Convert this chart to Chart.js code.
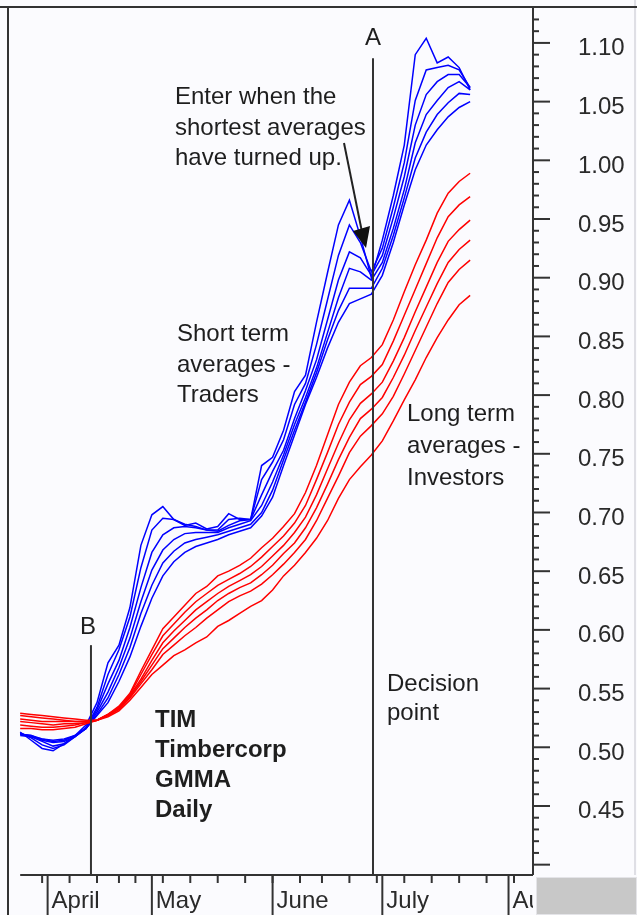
<!DOCTYPE html>
<html>
<head>
<meta charset="utf-8">
<title>TIM Timbercorp GMMA Daily</title>
<script src="https://cdn.jsdelivr.net/npm/chart.js@4/dist/chart.umd.min.js"></script>
<style>
  html, body { margin: 0; padding: 0; background: #fbfbfe; }
  #wrap { width: 637px; height: 915px; }
</style>
</head>
<body>
<div id="wrap"><canvas id="gmma" width="637" height="915"></canvas></div>
<script>
// trading day index, 0 = 1 April 2003
const days = [-5, -3, -1, 1, 3, 5, 7, 9, 11, 13, 15, 17, 19, 21, 23, 25, 27, 29, 31, 33, 35,
              37, 39, 41, 43, 45, 47, 49, 51, 53, 55, 57, 59, 61, 63, 65, 67, 69, 71, 73, 75, 77];

// short term averages - traders
const ema3  = [0.513, 0.506, 0.499, 0.497, 0.503, 0.510, 0.519, 0.538, 0.572, 0.587, 0.619, 0.672, 0.698, 0.705,
               0.694, 0.689, 0.691, 0.686, 0.688, 0.699, 0.694, 0.694, 0.740, 0.747, 0.770, 0.803, 0.817, 0.862,
               0.904, 0.945, 0.966, 0.935, 0.900, 0.932, 0.970, 1.013, 1.090, 1.104, 1.083, 1.088, 1.079, 1.060];
const ema5  = [0.512, 0.508, 0.502, 0.499, 0.502, 0.509, 0.517, 0.534, 0.562, 0.583, 0.611, 0.653, 0.685, 0.695,
               0.694, 0.690, 0.688, 0.685, 0.685, 0.694, 0.695, 0.694, 0.728, 0.743, 0.762, 0.792, 0.810, 0.843,
               0.881, 0.919, 0.945, 0.930, 0.905, 0.925, 0.960, 0.998, 1.051, 1.077, 1.079, 1.081, 1.077, 1.062];
const ema8  = [0.512, 0.509, 0.505, 0.501, 0.503, 0.509, 0.516, 0.532, 0.554, 0.574, 0.602, 0.636, 0.666, 0.681,
               0.687, 0.688, 0.687, 0.685, 0.684, 0.689, 0.693, 0.694, 0.715, 0.735, 0.753, 0.780, 0.804, 0.830,
               0.864, 0.898, 0.922, 0.917, 0.902, 0.919, 0.951, 0.986, 1.030, 1.056, 1.067, 1.073, 1.073, 1.062];
const ema10 = [0.511, 0.510, 0.506, 0.504, 0.505, 0.509, 0.516, 0.530, 0.547, 0.568, 0.593, 0.624, 0.651, 0.668,
               0.677, 0.682, 0.683, 0.683, 0.683, 0.687, 0.690, 0.693, 0.706, 0.726, 0.749, 0.775, 0.798, 0.823,
               0.853, 0.883, 0.908, 0.905, 0.898, 0.913, 0.942, 0.975, 1.015, 1.039, 1.051, 1.062, 1.067, 1.060];
const ema12 = [0.511, 0.510, 0.507, 0.505, 0.506, 0.510, 0.516, 0.528, 0.542, 0.562, 0.585, 0.614, 0.638, 0.657,
               0.667, 0.674, 0.677, 0.679, 0.681, 0.684, 0.687, 0.690, 0.700, 0.719, 0.745, 0.770, 0.794, 0.819,
               0.847, 0.872, 0.891, 0.891, 0.891, 0.908, 0.936, 0.968, 1.002, 1.024, 1.039, 1.049, 1.057, 1.056];
const ema15 = [0.510, 0.509, 0.507, 0.506, 0.507, 0.510, 0.516, 0.527, 0.538, 0.556, 0.577, 0.603, 0.627, 0.646,
               0.658, 0.666, 0.671, 0.674, 0.677, 0.681, 0.684, 0.687, 0.697, 0.713, 0.740, 0.766, 0.792, 0.815,
               0.840, 0.862, 0.878, 0.882, 0.886, 0.902, 0.930, 0.962, 0.992, 1.013, 1.026, 1.037, 1.045, 1.050];

// long term averages - investors
const ema30 = [0.516, 0.516, 0.515, 0.515, 0.516, 0.517, 0.520, 0.523, 0.528, 0.535, 0.546, 0.565, 0.583, 0.601,
               0.611, 0.621, 0.631, 0.637, 0.646, 0.650, 0.655, 0.661, 0.670, 0.678, 0.688, 0.699, 0.717, 0.740,
               0.766, 0.792, 0.811, 0.825, 0.832, 0.843, 0.864, 0.888, 0.911, 0.932, 0.955, 0.972, 0.982, 0.989];
const ema35 = [0.519, 0.518, 0.517, 0.517, 0.518, 0.519, 0.521, 0.523, 0.528, 0.534, 0.545, 0.562, 0.579, 0.595,
               0.605, 0.615, 0.624, 0.631, 0.638, 0.643, 0.648, 0.654, 0.662, 0.671, 0.680, 0.691, 0.706, 0.728,
               0.751, 0.775, 0.794, 0.809, 0.816, 0.826, 0.846, 0.868, 0.890, 0.912, 0.934, 0.952, 0.962, 0.969];
const ema40 = [0.522, 0.521, 0.520, 0.519, 0.520, 0.520, 0.521, 0.523, 0.528, 0.533, 0.544, 0.558, 0.574, 0.589,
               0.599, 0.608, 0.617, 0.624, 0.631, 0.637, 0.642, 0.647, 0.654, 0.663, 0.672, 0.683, 0.696, 0.715,
               0.737, 0.759, 0.779, 0.793, 0.801, 0.811, 0.829, 0.849, 0.871, 0.892, 0.913, 0.931, 0.941, 0.949];
const ema45 = [0.524, 0.523, 0.522, 0.522, 0.522, 0.522, 0.522, 0.523, 0.527, 0.533, 0.543, 0.556, 0.570, 0.584,
               0.593, 0.602, 0.610, 0.617, 0.625, 0.631, 0.636, 0.640, 0.647, 0.655, 0.665, 0.674, 0.687, 0.704,
               0.724, 0.745, 0.764, 0.780, 0.788, 0.798, 0.815, 0.834, 0.855, 0.875, 0.895, 0.913, 0.924, 0.932];
const ema50 = [0.527, 0.526, 0.525, 0.524, 0.523, 0.522, 0.522, 0.523, 0.527, 0.532, 0.542, 0.554, 0.566, 0.579,
               0.587, 0.595, 0.602, 0.610, 0.617, 0.624, 0.629, 0.633, 0.639, 0.647, 0.656, 0.666, 0.677, 0.693,
               0.712, 0.731, 0.751, 0.765, 0.774, 0.784, 0.799, 0.818, 0.838, 0.858, 0.878, 0.896, 0.907, 0.915];
const ema60 = [0.529, 0.528, 0.527, 0.526, 0.525, 0.524, 0.523, 0.523, 0.526, 0.531, 0.540, 0.551, 0.562, 0.570,
               0.578, 0.583, 0.589, 0.594, 0.603, 0.608, 0.614, 0.620, 0.625, 0.634, 0.646, 0.655, 0.666, 0.678,
               0.693, 0.712, 0.728, 0.739, 0.749, 0.761, 0.778, 0.796, 0.813, 0.832, 0.849, 0.864, 0.877, 0.885];

// axes
const monthStarts = [0, 19, 41, 61, 84];
const monthNames = ["April", "May", "June", "July", "August"];
const weekStarts = [-1, 4, 9, 13, 16, 21, 26, 31, 36, 41, 46, 50, 55, 60, 65, 70, 75, 80, 85];
const priceTicks = [0.45, 0.50, 0.55, 0.60, 0.65, 0.70, 0.75, 0.80, 0.85, 0.90, 0.95, 1.00, 1.05, 1.10];

const entryB = 7.9;      // B
const decisionA = 59.3;  // A

const FONT = '"Liberation Sans", Arial, sans-serif';

const notes = [
  { text: "A", x: 365, y: 38 },
  { text: "B", x: 80, y: 627 },
  { text: "Enter when the", x: 175, y: 97 },
  { text: "shortest averages", x: 175, y: 128 },
  { text: "have turned up.", x: 175, y: 158 },
  { text: "Short term", x: 177, y: 334 },
  { text: "averages -", x: 177, y: 365 },
  { text: "Traders", x: 177, y: 395 },
  { text: "Long term", x: 407, y: 414 },
  { text: "averages -", x: 407, y: 446 },
  { text: "Investors", x: 407, y: 478 },
  { text: "Decision", x: 387, y: 684 },
  { text: "point", x: 387, y: 713 },
  { text: "TIM", x: 155, y: 720, bold: true },
  { text: "Timbercorp", x: 155, y: 750, bold: true },
  { text: "GMMA", x: 155, y: 780, bold: true },
  { text: "Daily", x: 155, y: 810, bold: true }
];

function series(values, color) {
  return {
    data: days.map((d, i) => ({ x: d, y: values[i] })),
    borderColor: color,
    borderWidth: 1.5,
    pointRadius: 0,
    tension: 0,
    fill: false
  };
}

const decor = {
  id: 'decor',
  beforeDraw(chart) {
    const ctx = chart.ctx;
    ctx.save();
    ctx.fillStyle = '#fbfbfe';
    ctx.fillRect(0, 0, chart.width, chart.height);
    ctx.restore();
  },
  afterDraw(chart) {
    const { ctx, chartArea: area, scales: { x, y } } = chart;
    const seg = (x1, y1, x2, y2) => {
      ctx.beginPath();
      ctx.moveTo(x1, y1);
      ctx.lineTo(x2, y2);
      ctx.stroke();
    };
    ctx.save();

    // light outer edge on the right
    ctx.strokeStyle = '#d6d6dc';
    ctx.lineWidth = 1.5;
    seg(635, 0, 635, area.bottom);

    ctx.strokeStyle = '#333';
    ctx.lineWidth = 2;
    seg(0, area.top, chart.width, area.top);
    seg(area.left, area.top, area.left, chart.height);
    seg(area.right, area.top, area.right, area.bottom);
    seg(x.getPixelForValue(days[0]), area.bottom, area.right, area.bottom);

    // price axis ticks
    for (let c = 40; c <= 112; c++) {
      const py = y.getPixelForValue(c / 100);
      seg(area.right, py, area.right + (c % 5 === 0 ? 17 : 6), py);
    }
    ctx.fillStyle = '#2a2a2a';
    ctx.font = '24px ' + FONT;
    ctx.textAlign = 'left';
    ctx.textBaseline = 'alphabetic';
    priceTicks.forEach(v => ctx.fillText(v.toFixed(2), 578, y.getPixelForValue(v) + 12.5));

    // time axis
    weekStarts.forEach(d => {
      const px = x.getPixelForValue(d);
      seg(px, area.bottom, px, area.bottom + 8);
    });
    monthStarts.forEach(d => {
      const px = x.getPixelForValue(d);
      seg(px, area.bottom, px, chart.height);
    });
    ctx.save();
    ctx.beginPath();
    ctx.rect(0, area.bottom, area.right, chart.height - area.bottom);
    ctx.clip();
    monthNames.forEach((m, k) => ctx.fillText(m, x.getPixelForValue(monthStarts[k]) + 4, 908));
    ctx.restore();

    // A and B markers
    ctx.strokeStyle = '#333';
    const ax = x.getPixelForValue(decisionA);
    seg(ax, y.getPixelForValue(1.087), ax, area.bottom);
    const bx = x.getPixelForValue(entryB);
    seg(bx, y.getPixelForValue(0.587), bx, area.bottom);

    // arrow to the turn
    ctx.strokeStyle = '#222';
    ctx.lineWidth = 2;
    seg(344, 143, 362, 232);
    ctx.fillStyle = '#111';
    ctx.beginPath();
    ctx.moveTo(353, 231);
    ctx.lineTo(370, 226);
    ctx.lineTo(366, 248);
    ctx.closePath();
    ctx.fill();

    // notes
    ctx.fillStyle = '#1e1e1e';
    ctx.textBaseline = 'middle';
    notes.forEach(n => {
      ctx.font = (n.bold ? 'bold ' : '') + '24px ' + FONT;
      ctx.fillText(n.text, n.x, n.y);
    });

    // grey corner box
    ctx.fillStyle = '#c8c8c8';
    ctx.fillRect(536, area.bottom + 2, chart.width - 536, chart.height - area.bottom - 2);
    ctx.strokeStyle = '#e4e4e8';
    ctx.lineWidth = 1;
    ctx.strokeRect(536.5, area.bottom + 2.5, chart.width - 537, chart.height - area.bottom - 3);

    ctx.restore();
  }
};

new Chart(document.getElementById('gmma'), {
  type: 'line',
  data: {
    datasets: [
      series(ema30, '#ff0000'), series(ema35, '#ff0000'), series(ema40, '#ff0000'),
      series(ema45, '#ff0000'), series(ema50, '#ff0000'), series(ema60, '#ff0000'),
      series(ema3, '#0000ff'), series(ema5, '#0000ff'), series(ema8, '#0000ff'),
      series(ema10, '#0000ff'), series(ema12, '#0000ff'), series(ema15, '#0000ff')
    ]
  },
  options: {
    responsive: false,
    animation: false,
    layout: { padding: { left: 8, top: 7, right: 104, bottom: 40 } },
    plugins: { legend: { display: false }, tooltip: { enabled: false } },
    scales: {
      x: { type: 'linear', min: -7.22, max: 88.46, display: false },
      y: { type: 'linear', min: 0.3912, max: 1.1306, display: false }
    }
  },
  plugins: [decor]
});
</script>
</body>
</html>
